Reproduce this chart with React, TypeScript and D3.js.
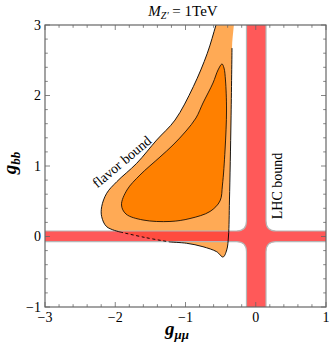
import React from "react";
import * as d3 from "d3";

const W = 332;
const H = 351;
const margin = { top: 25, right: 6, bottom: 44, left: 45 };

// axes
const xTickVals = [-3, -2, -1, 0, 1];
const yTickVals = [-1, 0, 1, 2, 3];

// LHC bound (cross shaped band), edges in data units
const lhcGmumu = [-0.132, 0.146];
const lhcGbb = [-0.074, 0.078];

// flavor bound, outer (light) region
const outerLower: [number, number][] = [
  [-1.221, -0.078], [-0.983, -0.096], [-0.751, -0.145], [-0.556, -0.216],
  [-0.466, -0.291], [-0.413, -0.191], [-0.388, 0.007], [-0.374, 0.518],
  [-0.352, 1.652], [-0.338, 2.674],
];
const outerTop: [number, number][] = [[-0.336, 3.2]];
const outerLeft: [number, number][] = [
  [-0.505, 3.2], [-0.566, 3.0], [-0.69, 2.598], [-0.889, 2.125], [-1.149, 1.652],
  [-1.41, 1.369], [-1.695, 1.038], [-1.979, 0.777], [-2.122, 0.613],
  [-2.193, 0.423], [-2.193, 0.281], [-2.122, 0.139], [-1.932, 0.064],
];
const outerDashed: [number, number][] = [[-1.932, 0.064], [-1.577, -0.014], [-1.221, -0.078]];

// flavor bound, inner (dark) region
const inner: [number, number][] = [
  [-0.48, 2.447], [-0.537, 2.362], [-0.609, 2.177], [-0.751, 1.894],
  [-0.851, 1.681], [-0.993, 1.496], [-1.178, 1.298], [-1.363, 1.128],
  [-1.648, 0.872], [-1.833, 0.66], [-1.911, 0.447], [-1.847, 0.319],
  [-1.605, 0.234], [-1.221, 0.213], [-0.936, 0.255], [-0.651, 0.355],
  [-0.509, 0.504], [-0.474, 0.73], [-0.437, 1.227], [-0.416, 1.794],
  [-0.431, 2.22], [-0.452, 2.39],
];

const serif = "'Liberation Serif', 'DejaVu Serif', serif";

export default function App() {
  const L = margin.left, R = W - margin.right, T = margin.top, B = H - margin.bottom;
  const x = d3.scaleLinear().domain([-3, 1]).range([L, R]);
  const y = d3.scaleLinear().domain([-1, 3]).range([B, T]);

  const pt = (d: [number, number]) => [x(d[0]), y(d[1])] as [number, number];
  const closed = d3.line().curve(d3.curveCatmullRomClosed.alpha(0.5));
  const open = d3.line().curve(d3.curveCatmullRom.alpha(0.5));

  const outerFill = closed([...outerLower, ...outerTop, ...outerLeft, outerDashed[1]].map(pt));
  const innerFill = closed(inner.map(pt));

  // LHC cross with rounded inner corners
  const xl = x(lhcGmumu[0]), xr = x(lhcGmumu[1]);
  const yt = y(lhcGbb[1]), yb = y(lhcGbb[0]);
  const r = 10;
  const e = 5;
  const cross = [
    `M${xl},${T - e}`, `L${xl},${yt - r}`, `Q${xl},${yt} ${xl - r},${yt}`,
    `L${L - e},${yt}`, `L${L - e},${yb}`, `L${xl - r},${yb}`, `Q${xl},${yb} ${xl},${yb + r}`,
    `L${xl},${B + e}`, `L${xr},${B + e}`, `L${xr},${yb + r}`, `Q${xr},${yb} ${xr + r},${yb}`,
    `L${R + e},${yb}`, `L${R + e},${yt}`, `L${xr + r},${yt}`, `Q${xr},${yt} ${xr},${yt - r}`,
    `L${xr},${T - e}`, "Z",
  ].join(" ");

  const frameColor = "#666";
  const xMinor = x.ticks(20);
  const yMinor = y.ticks(20);
  const isMajor = (v: number, list: number[]) => list.some((m) => Math.abs(m - v) < 1e-6);

  const fmt = (v: number) => (v < 0 ? "\u2212" + Math.abs(v) : String(v));

  return (
    <svg width={W} height={H} style={{ position: "absolute", left: 0, top: 0, background: "#fff" }}>
      <defs>
        <clipPath id="plotArea">
          <rect x={L} y={T} width={R - L} height={B - T} />
        </clipPath>
      </defs>
      <g clipPath="url(#plotArea)">
        <path d={outerFill || ""} fill="#ffaa55" />
        <path d={innerFill || ""} fill="#ff8000" />
        <path d={cross} fill="#ff3c3c" fillOpacity={0.85} stroke="#b5b5b5" strokeWidth={1.2} />
        <path d={open(outerLower.map(pt)) || ""} fill="none" stroke="#000" strokeWidth={0.9} />
        <path d={open(outerLeft.map(pt)) || ""} fill="none" stroke="#000" strokeWidth={0.9} />
        <path d={open(outerDashed.map(pt)) || ""} fill="none" stroke="#000" strokeWidth={0.9} strokeDasharray="3,2.5" />
        <path d={innerFill || ""} fill="none" stroke="#000" strokeWidth={0.8} />
      </g>

      {/* frame */}
      <rect x={L} y={T} width={R - L} height={B - T} fill="none" stroke={frameColor} strokeWidth={1.2} />
      {xMinor.map((v) => {
        const len = isMajor(v, xTickVals) ? 5 : 2.8;
        return (
          <g key={"xt" + v} stroke={frameColor} strokeWidth={0.8}>
            <line x1={x(v)} x2={x(v)} y1={B} y2={B - len} />
            <line x1={x(v)} x2={x(v)} y1={T} y2={T + len} />
          </g>
        );
      })}
      {yMinor.map((v) => {
        const len = isMajor(v, yTickVals) ? 5 : 2.8;
        return (
          <g key={"yt" + v} stroke={frameColor} strokeWidth={0.8}>
            <line x1={L} x2={L + len} y1={y(v)} y2={y(v)} />
            <line x1={R} x2={R - len} y1={y(v)} y2={y(v)} />
          </g>
        );
      })}
      {xTickVals.map((v) => (
        <text key={"xl" + v} x={x(v)} y={B + 15} textAnchor="middle" fontFamily={serif} fontSize={14}>
          {fmt(v)}
        </text>
      ))}
      {yTickVals.map((v) => (
        <text key={"yl" + v} x={L - 4} y={y(v) + 4.5} textAnchor="end" fontFamily={serif} fontSize={14}>
          {fmt(v)}
        </text>
      ))}

      {/* title */}
      <text x={183} y={16} textAnchor="middle" fontFamily={serif} fontSize={15}>
        <tspan fontStyle="italic">M</tspan>
        <tspan fontStyle="italic" fontSize={10} dy={3}>Z{"\u2032"}</tspan>
        <tspan dy={-3}> = 1TeV</tspan>
      </text>

      {/* axis labels */}
      <text x={177} y={335} textAnchor="middle" fontFamily={serif} fontSize={19} fontWeight="bold" fontStyle="italic">
        g<tspan fontSize={13} dy={4}>{"\u03bc\u03bc"}</tspan>
      </text>
      <text transform="translate(16,163) rotate(-90)" textAnchor="middle" fontFamily={serif} fontSize={19} fontWeight="bold" fontStyle="italic">
        g<tspan fontSize={13} dy={4}>bb</tspan>
      </text>

      {/* annotations */}
      <text transform="translate(122,162) rotate(-40)" textAnchor="middle" dominantBaseline="central" fontFamily={serif} fontSize={14}>
        flavor bound
      </text>
      <text transform="translate(277,186) rotate(-90)" textAnchor="middle" dominantBaseline="central" fontFamily={serif} fontSize={14}>
        LHC bound
      </text>
    </svg>
  );
}
